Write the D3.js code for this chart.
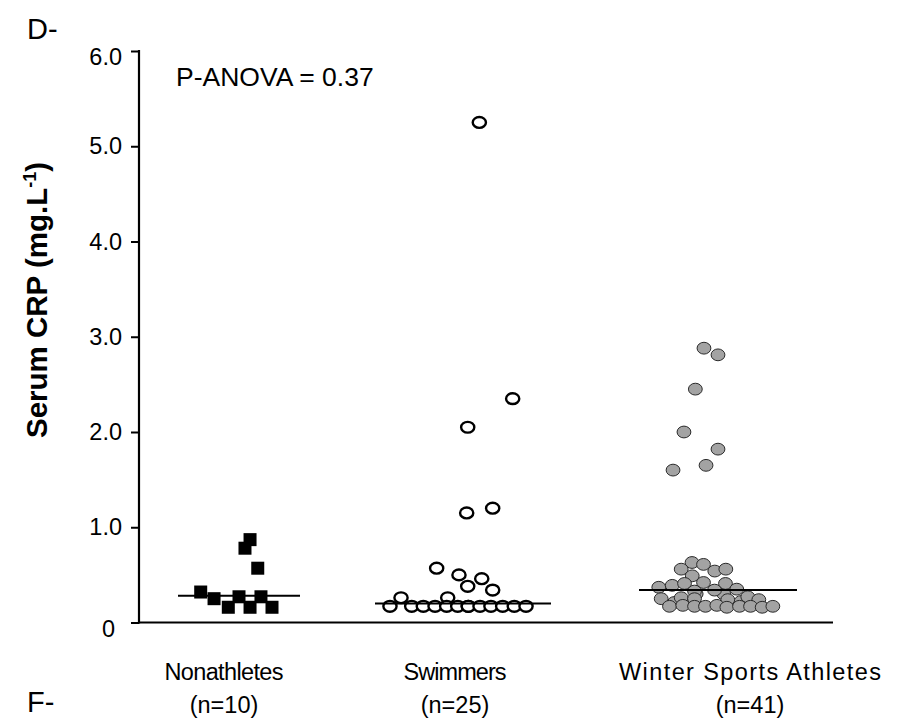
<!DOCTYPE html>
<html>
<head>
<meta charset="utf-8">
<script src="https://cdn.jsdelivr.net/npm/d3@7"></script>
<style>
  html, body { margin: 0; padding: 0; background: #fff; }
  svg text { font-family: "Liberation Sans", Arial, sans-serif; fill: #000; }
</style>
</head>
<body>
<svg id="chart" width="901" height="723"></svg>
<script>
// Serum CRP (mg/L) per subject, with the horizontal jitter slot
// (in marker widths) used to spread overlapping dots.
const groupNames = ["Nonathletes", "Swimmers", "Winter Sports Athletes"];
const groupCounts = ["(n=10)", "(n=25)", "(n=41)"];

const nonathleteValues = [0.87, 0.78, 0.57, 0.32, 0.25, 0.16, 0.27, 0.16, 0.27, 0.16];
const nonathleteJitter = [0.96, 0.52, 1.63, -3.33, -2.17, -0.93, 0, 0.96, 1.91, 2.87];

const swimmerValues = [5.25, 2.35, 2.05, 1.20, 1.15, 0.57, 0.50, 0.46, 0.38, 0.34, 0.26, 0.26,
  0.17, 0.17, 0.17, 0.17, 0.17, 0.17, 0.17, 0.17, 0.17, 0.17, 0.17, 0.17, 0.17];
const swimmerJitter = [1.42, 4.32, 0.41, 2.58, 0.32, -2.29, -0.35, 1.63, 0.41, 2.58, -5.39, -1.33,
  -6.35, -4.46, -3.45, -2.43, -1.42, -0.46, 0.46, 0.46, 1.48, 2.43, 3.45, 4.46, 5.48];

const winterValues = [2.88, 2.81, 2.45, 2.00, 1.82, 1.65, 1.60,
  0.63, 0.61, 0.56, 0.54, 0.56, 0.49,
  0.30, 0.30, 0.21, 0.22,
  0.37, 0.39, 0.41, 0.42, 0.41, 0.35, 0.33, 0.34,
  0.25, 0.26, 0.25, 0.24, 0.27, 0.24,
  0.17, 0.18, 0.17, 0.17, 0.18, 0.16, 0.17, 0.17, 0.16, 0.17];
const winterJitter = [-1.22, 0, -1.97, -2.96, 0, -1.04, -3.91,
  -2.26, -1.26, -3.2, -0.28, 0.68, -2.24,
  -1.9, 0.5, -3.8, 2.0,
  -5.15, -3.98, -2.91, -1.26, 0.65, 1.63, -2.04, -0.3,
  -4.94, -3.2, -2.04, 0.85, 2.59, 3.55,
  -4.22, -3.06, -2.04, -1.09, -0.1, 0.77, 1.87, 2.83, 3.84, 4.77];

const groupMedians = [0.28, 0.20, 0.34];

const yTickValues = [0, 1, 2, 3, 4, 5, 6];
const yTickLabels = ["0", "1.0", "2.0", "3.0", "4.0", "5.0", "6.0"];

const pAnovaText = "P-ANOVA = 0.37";

// ---- layout ----
const svg = d3.select("#chart");
const axisLeft = 139, axisRight = 833, axisBottom = 622.5, axisTop = 51;

const y = d3.scaleLinear().domain([0, 6]).range([axisBottom, axisTop]);
const unit = 11.5; // one marker width
const slot = d3.scaleLinear().domain([-1, 1]).range([-unit, unit]);

const groups = [
  { values: nonathleteValues, jitter: nonathleteJitter, center: 239, half: 61,
    label: 224, nameWidth: 119, shape: "square" },
  { values: swimmerValues, jitter: swimmerJitter, center: 463, half: 88,
    label: 455, nameWidth: 103, shape: "open" },
  { values: winterValues, jitter: winterJitter, center: 718, half: 79,
    label: 750, nameWidth: 262, shape: "gray" }
];

// y axis
const yAxis = d3.axisLeft(y)
  .tickValues(yTickValues)
  .tickFormat((d, i) => yTickLabels[i])
  .tickSize(8)
  .tickPadding(9);

const gy = svg.append("g").attr("transform", `translate(${axisLeft},0)`).call(yAxis);
gy.select(".domain").remove();
gy.selectAll(".tick line").attr("stroke", "#000").attr("stroke-width", 2);
gy.selectAll(".tick text").attr("font-size", 23.5).attr("fill", "#000");
// end labels sit slightly below their ticks
gy.selectAll(".tick text").filter(d => d === 6).attr("y", 5.5);
gy.selectAll(".tick text").filter(d => d === 0).attr("y", 6).attr("x", -24);

svg.append("line")
  .attr("x1", axisLeft).attr("x2", axisLeft)
  .attr("y1", axisTop - 1).attr("y2", axisBottom + 1)
  .attr("stroke", "#000").attr("stroke-width", 2.2);

svg.append("line")
  .attr("x1", axisLeft - 1).attr("x2", axisRight)
  .attr("y1", axisBottom).attr("y2", axisBottom)
  .attr("stroke", "#000").attr("stroke-width", 2.2);

// data points
groups.forEach((g, gi) => {
  const pts = g.values.map((v, i) => ({ v, j: g.jitter[i] }));
  const layer = svg.append("g");
  const px = d => g.center + slot(d.j);
  if (g.shape === "square") {
    const s = 13;
    layer.selectAll("rect").data(pts).join("rect")
      .attr("x", d => px(d) - s / 2)
      .attr("y", d => y(d.v) - s / 2)
      .attr("width", s).attr("height", s)
      .attr("fill", "#000");
  } else if (g.shape === "open") {
    layer.selectAll("ellipse").data(pts).join("ellipse")
      .attr("cx", px).attr("cy", d => y(d.v))
      .attr("rx", 6.6).attr("ry", 5.4)
      .attr("fill", "#fff").attr("stroke", "#000").attr("stroke-width", 2.4);
  } else {
    layer.selectAll("ellipse").data(pts).join("ellipse")
      .attr("cx", px).attr("cy", d => y(d.v))
      .attr("rx", 6.9).attr("ry", 5.9)
      .attr("fill", "#a3a3a3").attr("stroke", "#2a2a2a").attr("stroke-width", 1);
  }
  // median line
  svg.append("line")
    .attr("x1", g.center - g.half).attr("x2", g.center + g.half)
    .attr("y1", y(groupMedians[gi])).attr("y2", y(groupMedians[gi]))
    .attr("stroke", "#000").attr("stroke-width", 2);
});

// category labels
groups.forEach((g, gi) => {
  svg.append("text").attr("x", g.label).attr("y", 680)
    .attr("text-anchor", "middle").attr("font-size", 23.5)
    .attr("textLength", g.nameWidth).attr("lengthAdjust", "spacing")
    .text(groupNames[gi]);
  svg.append("text").attr("x", g.label).attr("y", 713)
    .attr("text-anchor", "middle").attr("font-size", 23.5)
    .text(groupCounts[gi]);
});

// y axis title with superscript
const yt = svg.append("text")
  .attr("transform", "translate(47,300) rotate(-90)")
  .attr("text-anchor", "middle")
  .attr("font-size", 29.5).attr("font-weight", "bold");
yt.append("tspan").text("Serum CRP (mg.L");
yt.append("tspan").attr("font-size", 18).attr("dy", -11).text("-1");
yt.append("tspan").attr("dy", 11).text(")");

// annotations
svg.append("text").attr("x", 176).attr("y", 86).attr("font-size", 26.5).text(pAnovaText);
svg.append("text").attr("x", 27).attr("y", 39).attr("font-size", 29).text("D-");
svg.append("text").attr("x", 27).attr("y", 712).attr("font-size", 29).text("F-");
</script>
</body>
</html>
